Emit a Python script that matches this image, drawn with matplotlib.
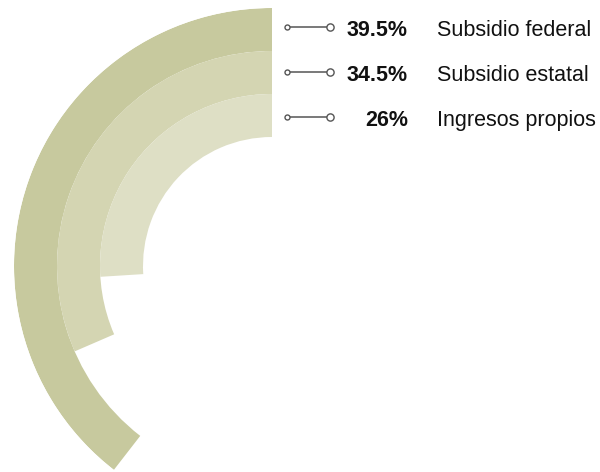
import matplotlib.pyplot as plt
import numpy as np

plt.rcParams['font.family'] = ['Liberation Sans', 'DejaVu Sans']

###
labels = ['Subsidio federal', 'Subsidio estatal', 'Ingresos propios']
pct_text = ['39.5%', '34.5%', '26%']
# sweep of each ring as drawn, in percent of a full turn
arc_pct = [39.5, 31.5, 26.0]
colors = ['#c7c99e', '#d4d5b2', '#dedfc5']
###

W, H = 600, 472
cx, cy = 272, 266          # ring centre in pixels (from top)
r_out = 258
ring_w = 43

fig = plt.figure(figsize=(W / 100, H / 100), dpi=100)

# polar axes, radial unit = one pixel
ax = fig.add_axes([(cx - r_out) / W, (H - cy - r_out) / H,
                   2 * r_out / W, 2 * r_out / H], projection='polar')
ax.set_theta_zero_location('N')
ax.set_theta_direction(1)
ax.set_ylim(0, r_out)

for i, p in enumerate(arc_pct):
    bottom = r_out - (i + 1) * ring_w
    ax.bar(0, ring_w, width=np.deg2rad(p * 3.6), bottom=bottom,
           align='edge', color=colors[i], edgecolor='none')
ax.axis('off')

# overlay in pixel coords for the legend
lg = fig.add_axes([0, 0, 1, 1])
lg.set_xlim(0, W)
lg.set_ylim(H, 0)
lg.axis('off')

rows_y = [26.7, 71.7, 116.7]
for y, pt, lab in zip(rows_y, pct_text, labels):
    lg.plot([287, 330], [y, y], color='#555555', lw=1.1, zorder=1)
    lg.plot(287, y, 'o', ms=3.6, mfc='white', mec='#555555', mew=1, zorder=2)
    lg.plot(330, y, 'o', ms=5.2, mfc='white', mec='#555555', mew=1, zorder=2)
    lg.text(408, y + 9.3, pt, ha='right', va='baseline', fontsize=15.5,
            fontweight='bold', color='#111111')
    lg.text(437, y + 9.3, lab, ha='left', va='baseline', fontsize=15.5,
            color='#111111')

fig.savefig('out.png', dpi=100)
